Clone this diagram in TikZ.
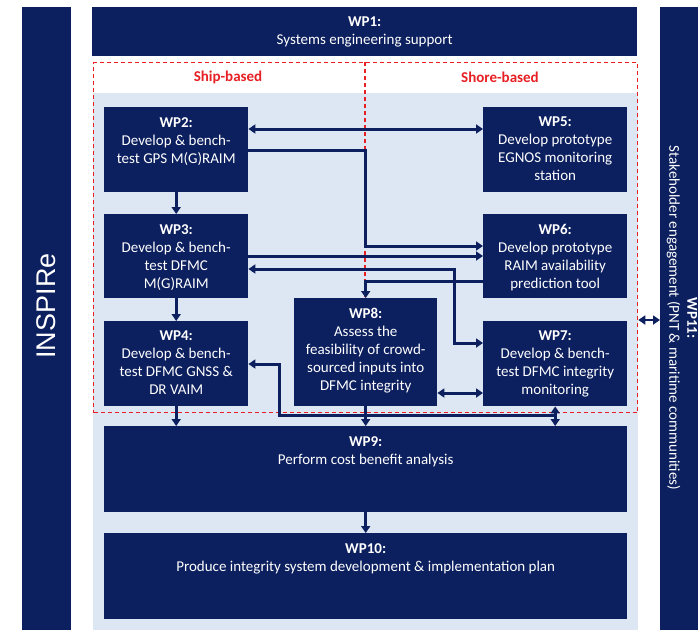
\documentclass[tikz,border=0pt]{standalone}
\usepackage{fontspec}
\setmainfont{Carlito}
\newfontfamily\barfont{Liberation Sans}
\usetikzlibrary{arrows.meta}
\definecolor{wpblue}{RGB}{12,31,94}
\definecolor{zoneblue}{RGB}{221,231,243}
\definecolor{zonered}{RGB}{232,32,36}

\begin{document}
\begin{tikzpicture}[x=1pt,y=-1pt,
  wpbox/.style={fill=wpblue, inner sep=0pt, anchor=north west},
  wptext/.style={text=white, align=center, inner sep=0pt, anchor=north,
    font=\fontsize{15}{18}\selectfont},
  zonetitle/.style={text=zonered, font=\fontsize{15}{18}\selectfont\bfseries},
  zoneline/.style={draw=zonered, line width=1.3pt, dash pattern=on 4pt off 3pt},
  link/.style={draw=wpblue, line width=3pt, >={Triangle[length=7pt,width=9pt]}}]
\useasboundingbox (0,0) rectangle (698,629);
\clip (0,0) rectangle (698,629);
\fill[white] (0,0) rectangle (698,629);
\fill[zoneblue] (93,93) rectangle (638,640);

% ship / shore split
\node[zoneline, anchor=north west, inner sep=0pt, minimum width=544pt, minimum height=350pt] (zone) at (93,62) {};
\draw[zoneline] (zone.north -| 365,0) -- (zone.south -| 365,0);
\node[zonetitle] (ship) at (228,77) {Ship-based};
\node[zonetitle] (shore) at (500,77) {Shore-based};

% side bars
\node[wpbox, minimum width=49pt, minimum height=640pt] (inspire) at (22,7) {};
\node[text=white, font=\barfont\fontsize{27}{30}\selectfont, rotate=90] (inspirelabel) at (46,306) {INSPIRe};
\node[wpbox, minimum width=60pt, minimum height=640pt] (wp11) at (660,7) {};
\node[wptext, anchor=center, rotate=-90] (wp11label) at (682,318) {\textbf{WP11:}\\Stakeholder engagement (PNT \& maritime communities)};

% work packages
\node[wpbox, minimum width=545pt, minimum height=49pt] (wp1) at (92,7) {};
\node[wptext] (wp1label) at ([yshift=-10pt]wp1.north) {\textbf{WP1:}\\Systems engineering support};

\node[wpbox, minimum width=144pt, minimum height=85pt] (wp2) at (104,107) {};
\node[wptext] (wp2label) at ([yshift=-10pt]wp2.north) {\textbf{WP2:}\\Develop \& bench-\\test GPS M(G)RAIM};
\node[wpbox, minimum width=144pt, minimum height=84pt] (wp3) at (104,214) {};
\node[wptext] (wp3label) at ([yshift=-10pt]wp3.north) {\textbf{WP3:}\\Develop \& bench-\\test DFMC\\M(G)RAIM};
\node[wpbox, minimum width=144pt, minimum height=85pt] (wp4) at (104,321) {};
\node[wptext] (wp4label) at ([yshift=-10pt]wp4.north) {\textbf{WP4:}\\Develop \& bench-\\test DFMC GNSS \&\\DR VAIM};

\node[wpbox, minimum width=144pt, minimum height=85pt] (wp5) at (483,107) {};
\node[wptext] (wp5label) at ([yshift=-10pt]wp5.north) {\textbf{WP5:}\\Develop prototype\\EGNOS monitoring\\station};
\node[wpbox, minimum width=144pt, minimum height=84pt] (wp6) at (483,214) {};
\node[wptext] (wp6label) at ([yshift=-10pt]wp6.north) {\textbf{WP6:}\\Develop prototype\\RAIM availability\\prediction tool};
\node[wpbox, minimum width=144pt, minimum height=85pt] (wp7) at (483,321) {};
\node[wptext] (wp7label) at ([yshift=-10pt]wp7.north) {\textbf{WP7:}\\Develop \& bench-\\test DFMC integrity\\monitoring};

\node[wpbox, minimum width=143pt, minimum height=108pt] (wp8) at (294,298) {};
\node[wptext] (wp8label) at ([yshift=-10pt]wp8.north) {\textbf{WP8:}\\Assess the\\feasibility of crowd-\\sourced inputs into\\DFMC integrity};

\node[wpbox, minimum width=523pt, minimum height=86pt] (wp9) at (104,426) {};
\node[wptext] (wp9label) at ([yshift=-10pt]wp9.north) {\textbf{WP9:}\\Perform cost benefit analysis};
\node[wpbox, minimum width=523pt, minimum height=86pt] (wp10) at (104,533) {};
\node[wptext] (wp10label) at ([yshift=-10pt]wp10.north) {\textbf{WP10:}\\Produce integrity system development \& implementation plan};

% links
\draw[link,<->] (wp2.east |- 0,129) -- (wp5.west |- 0,129);
\draw[link,->] (wp2.east |- 0,150) -| (365,246) -- (wp6.west |- 0,246);
\draw[link,->] (wp3.east |- 0,256) -- (wp6.west |- 0,256);
\draw[link,<->] (wp3.east |- 0,269) -| (454,343) -- (wp7.west |- 0,343);
\draw[link,->] (wp6.west |- 0,281) -| (wp8.north);
\draw[link,<->] (wp8.east |- 0,393) -- (wp7.west |- 0,393);
\draw[link,->] (wp2) -- (wp3);
\draw[link,->] (wp3) -- (wp4);
\draw[link,->] (wp4) -- (wp9.north -| wp4.south);
\draw[link,->] (wp8) -- (wp9.north -| wp8.south);
\draw[link,<->] (wp7) -- (wp9.north -| wp7.south);
\draw[link,->] (wp7.south |- 0,415) -| (279,364) -- (wp4.east |- 0,364);
\draw[link,->] (wp9) -- (wp10);
\draw[link,<->, line width=2pt] (zone.east |- 0,320) -- (wp11.west |- 0,320);
\end{tikzpicture}
\end{document}
